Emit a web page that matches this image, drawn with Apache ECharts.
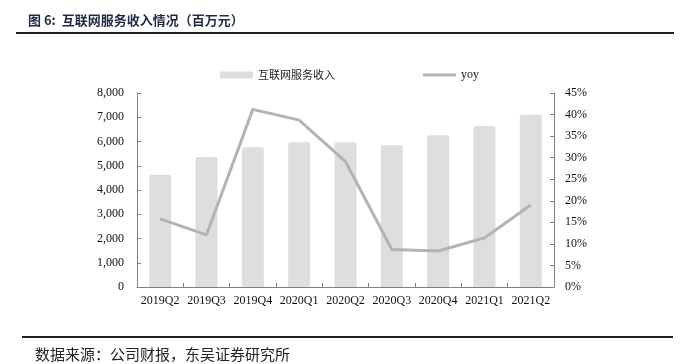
<!DOCTYPE html>
<html>
<head>
<meta charset="utf-8">
<script src="https://cdn.jsdelivr.net/npm/echarts@6/dist/echarts.min.js"></script>
<style>
  html, body { margin: 0; padding: 0; background: #fff; }
  #chart { width: 683px; height: 364px; }
</style>
</head>
<body>
<div id="chart"></div>
<script>
// 互联网服务收入（百万元）与同比
const quarters = ['2019Q2', '2019Q3', '2019Q4', '2020Q1', '2020Q2', '2020Q3', '2020Q4', '2021Q1', '2021Q2'];
const revenue = [4630, 5360, 5760, 5965, 5965, 5845, 6255, 6640, 7105];
const yoy = [15.8, 12.1, 41.2, 38.7, 29.1, 8.7, 8.35, 11.4, 19.0];

const serif = '"Liberation Serif", "Times New Roman", serif';
const cjk = '"Noto Sans CJK SC", sans-serif';
const axisColor = '#808080';

const myChart = echarts.init(document.getElementById('chart'));
const option = {
    backgroundColor: '#fff',
    animation: false,
    title: [
        {
            text: '图 6:  互联网服务收入情况（百万元）',
            left: 23,
            top: 9,
            textStyle: { fontFamily: cjk, fontSize: 13, fontWeight: 'bold', color: '#1f2a44' }
        },
        {
            text: '数据来源：公司财报，东吴证券研究所',
            left: 30,
            top: 342,
            textStyle: { fontFamily: cjk, fontSize: 15, fontWeight: 'normal', color: '#222' }
        }
    ],
    graphic: [
        { type: 'line', shape: { x1: 16, y1: 33, x2: 674, y2: 33 }, style: { stroke: '#222', lineWidth: 2 } },
        { type: 'line', shape: { x1: 22, y1: 337, x2: 673, y2: 337 }, style: { stroke: '#222', lineWidth: 2 } }
    ],
    legend: {
        left: 215,
        top: 64,
        itemWidth: 33,
        itemHeight: 7,
        itemGap: 88,
        symbolKeepAspect: true,
        textStyle: { fontFamily: cjk, fontSize: 11, color: '#222' },
        data: [
            { name: '互联网服务收入', icon: 'rect' },
            { name: 'yoy', icon: 'path://M0,0 H33 V3 H0 Z', textStyle: { fontFamily: serif, fontSize: 12 } }
        ]
    },
    grid: { left: 137, right: 129, top: 93, bottom: 77 },
    xAxis: {
        type: 'category',
        data: quarters,
        axisLine: { lineStyle: { color: axisColor } },
        axisTick: { show: true, inside: true, length: 4, alignWithLabel: false, lineStyle: { color: axisColor } },
        axisLabel: { fontFamily: serif, fontSize: 12, color: '#111', margin: 8, interval: 0 }
    },
    yAxis: [
        {
            type: 'value',
            min: 0, max: 8000, interval: 1000,
            axisLine: { show: true, lineStyle: { color: axisColor } },
            axisTick: { show: true, inside: true, length: 4, lineStyle: { color: axisColor } },
            splitLine: { show: false },
            axisLabel: {
                fontFamily: serif, fontSize: 12, color: '#111', margin: 13,
                formatter: v => v.toLocaleString('en-US')
            }
        },
        {
            type: 'value',
            min: 0, max: 45, interval: 5,
            axisLine: { show: true, lineStyle: { color: axisColor } },
            axisTick: { show: true, inside: true, length: 4, lineStyle: { color: axisColor } },
            splitLine: { show: false },
            axisLabel: { fontFamily: serif, fontSize: 12, color: '#111', margin: 11, formatter: '{value}%' }
        }
    ],
    series: [
        {
            name: '互联网服务收入',
            type: 'bar',
            data: revenue,
            barWidth: 22,
            itemStyle: { color: '#dedede', borderRadius: [2, 2, 0, 0] }
        },
        {
            name: 'yoy',
            type: 'line',
            yAxisIndex: 1,
            data: yoy,
            symbol: 'none',
            lineStyle: { color: '#b3b3b3', width: 3 },
            itemStyle: { color: '#b3b3b3' }
        }
    ]
};
myChart.setOption(option);
</script>
</body>
</html>
